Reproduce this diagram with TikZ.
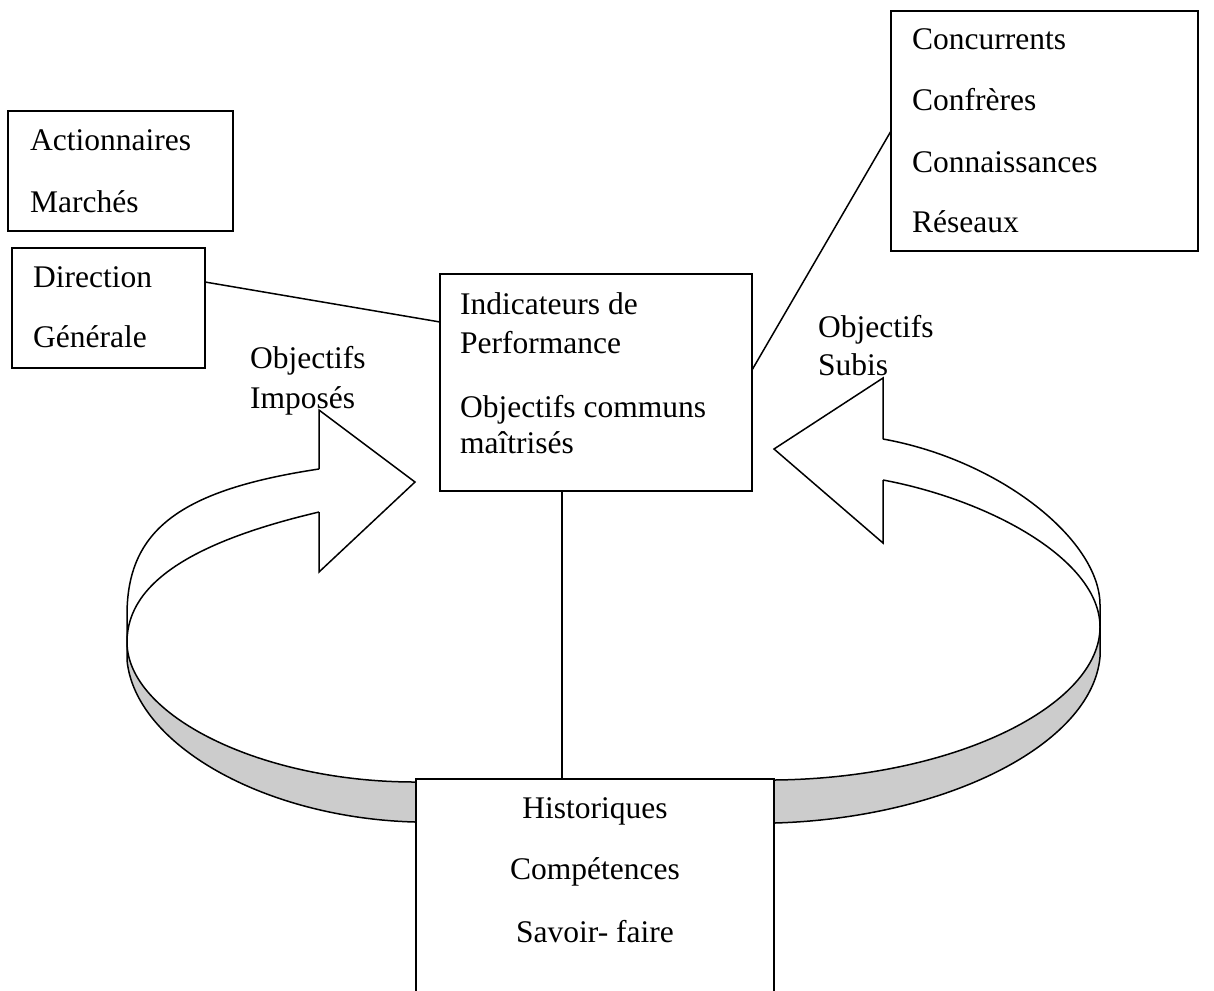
\documentclass[tikz,border=0pt]{standalone}
\usepackage{fontspec}
\setmainfont{Liberation Serif}
\tikzset{
  box/.style={draw, line width=1.5pt, fill=white, inner sep=0pt, outer sep=0pt},
  txt/.style={inner sep=0pt, font=\fontsize{31.5}{36}\selectfont},
  ln/.style={line width=1.5pt},
  band/.style={fill=black!20},
}
\begin{document}
\begin{tikzpicture}[x=1pt,y=-1pt, line join=miter]
\useasboundingbox (0,0) rectangle (1214,990);

% left curved arrow
\fill[band] (127,642) .. controls (127,715) and (260,782) .. (415,782) -- (415,822) .. controls (265,818) and (135,745) .. (127,660) -- cycle;
\draw[ln] (319,469) .. controls (180,490) and (127,530) .. (127,615) -- (127,660) .. controls (135,745) and (265,818) .. (415,822);
\draw[ln] (319,512) .. controls (200,540) and (127,580) .. (127,642) .. controls (127,715) and (260,782) .. (415,782);
\draw[ln] (319,469) -- (319,410) -- (415,482) -- (319,572) -- (319,512);

% right curved arrow
\fill[band] (1100,627) .. controls (1100,705) and (956,778) .. (775,780) -- (775,823) .. controls (945,818) and (1092,745) .. (1100,657) -- cycle;
\draw[ln] (883,439) .. controls (1000,460) and (1100,540) .. (1100,605) -- (1100,657) .. controls (1092,745) and (945,818) .. (775,823);
\draw[ln] (883,480) .. controls (990,500) and (1100,560) .. (1100,627) .. controls (1100,705) and (956,778) .. (775,780);
\draw[ln] (883,439) -- (883,378) -- (774,449) -- (883,543) -- (883,480);

% boxes
\node[box, minimum width=225pt, minimum height=120pt] (act) at (120.5,171) {};
\node[box, minimum width=193pt, minimum height=120pt] (dir) at (108.5,308) {};
\node[box, minimum width=312pt, minimum height=217pt] (ind) at (596,382.5) {};
\node[box, minimum width=307pt, minimum height=240pt] (conc) at (1044.5,131) {};
\node[box, minimum width=358pt, minimum height=221pt] (hist) at (595,889.5) {};

% connectors
\draw[ln] ([yshift=26pt]dir.east) -- ([yshift=60.5pt]ind.west);
\draw[ln] (conc.west) -- ([yshift=12.5pt]ind.east);
\draw[ln] ([xshift=-34pt]ind.south) -- ([xshift=-34pt]ind.south |- hist.north);

% texts
\node[txt, anchor=base west] (t1) at (30,150) {Actionnaires};
\node[txt, anchor=base west] (t2) at (30,212) {Marchés};
\node[txt, anchor=base west] (t3) at (33,287) {Direction};
\node[txt, anchor=base west] (t4) at (33,347) {Générale};
\node[txt, anchor=base west] (t5) at (460,314) {Indicateurs de};
\node[txt, anchor=base west] (t6) at (460,353) {Performance};
\node[txt, anchor=base west] (t7) at (460,417) {Objectifs communs};
\node[txt, anchor=base west] (t8) at (460,453) {maîtrisés};
\node[txt, anchor=base west] (t9) at (912,50) {Concurrents};
\node[txt, anchor=base west] (t10) at (912,110) {Confrères};
\node[txt, anchor=base west] (t11) at (912,172) {Connaissances};
\node[txt, anchor=base west] (t12) at (912,232) {Réseaux};
\node[txt, anchor=base west] (t13) at (818,337) {Objectifs};
\node[txt, anchor=base west] (t14) at (818,375) {Subis};
\node[txt, anchor=base west] (t15) at (250,368) {Objectifs};
\node[txt, anchor=base west] (t16) at (250,408) {Imposés};
\node[txt, anchor=base] (t17) at (595,818) {Historiques};
\node[txt, anchor=base] (t18) at (595,879) {Compétences};
\node[txt, anchor=base] (t19) at (595,942) {Savoir- faire};
\end{tikzpicture}
\end{document}
